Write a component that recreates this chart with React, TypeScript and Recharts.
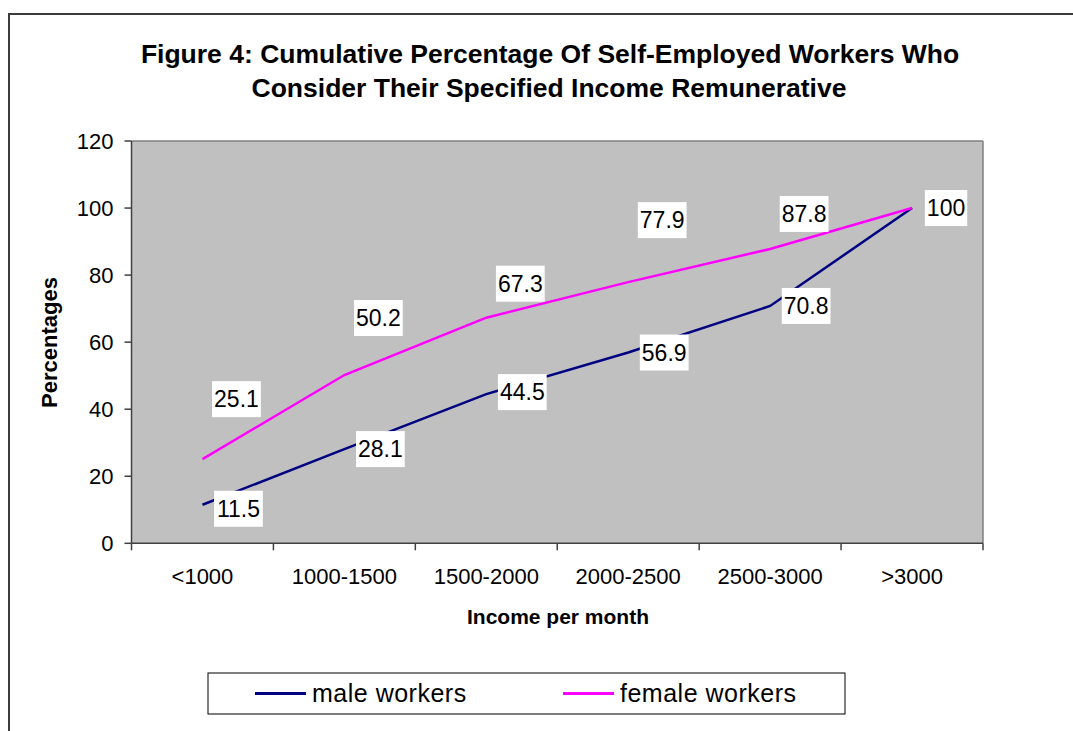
import React from "react";
import { LineChart, Line, XAxis, YAxis, CartesianGrid, ReferenceLine, LabelList } from "recharts";

const incomeBands = ["<1000", "1000-1500", "1500-2000", "2000-2500", "2500-3000", ">3000"];
const maleWorkers = [11.5, 28.1, 44.5, 56.9, 70.8, 100];
const femaleWorkers = [25.1, 50.2, 67.3, 77.9, 87.8, 100];
const yTicks = [0, 20, 40, 60, 80, 100, 120];

const seriesInfo = [
  { key: "male", name: "male workers", color: "#000080" },
  { key: "female", name: "female workers", color: "#FF00FF" },
];

const rows = incomeBands.map((band, i) => ({
  band,
  pos: i + 0.5,
  male: maleWorkers[i],
  female: femaleWorkers[i],
}));

// tick every band edge (tick line) and every band centre (label)
const xTicks = incomeBands.flatMap((_, i) => [i, i + 0.5]).concat(incomeBands.length);

const FONT = "Arial, 'Liberation Sans', sans-serif";
const AXIS = "#404040";

// label box offsets, as Excel left them
const maleDx = 36;
const maleDy = [4, 0, -2, 0, 0, 0];
const femaleDx = 34;
const femaleDy = [-60, -57, -34, -62, -35, 0];

function textWidth(s: string, size: number) {
  let w = 0;
  for (const ch of String(s)) w += ch === "." ? 0.278 : 0.556;
  return w * size;
}

function makeLabel(dx: number, dys: number[], skip?: (i: number) => boolean) {
  return (props: any) => {
    const px = props.x ?? props.viewBox?.x;
    const py = props.y ?? props.viewBox?.y;
    if (px == null || py == null) return null;
    const idx = props.index ?? 0;
    if (skip && skip(idx)) return null;
    const cx = px + dx;
    const cy = py + (dys[idx] ?? 0);
    const w = textWidth(String(props.value), 23) + 4;
    return (
      <g>
        <rect x={cx - w / 2} y={cy - 18} width={w} height={36} fill="#fff" />
        <text x={cx} y={cy} dy="0.355em" textAnchor="middle" fontSize={23} fontFamily={FONT} fill="#000">
          {props.value}
        </text>
      </g>
    );
  };
}

// where both series meet, Excel shows just one label
const maleSkip = (i: number) => maleWorkers[i] === femaleWorkers[i];

function XTick(props: any) {
  const { x, y, payload } = props;
  const v = payload.value;
  if (Number.isInteger(v)) {
    return <line x1={x} x2={x} y1={y} y2={y + 7} stroke={AXIS} strokeWidth={1.5} />;
  }
  return (
    <text x={x} y={y + 33} dy="0.355em" textAnchor="middle" fontSize={22} fontFamily={FONT} fill="#000">
      {incomeBands[Math.floor(v)]}
    </text>
  );
}

export default function App() {
  return (
    <div style={{ position: "absolute", left: 0, top: 0, width: 1073, height: 731, background: "#fff", overflow: "hidden" }}>
      <svg width={1073} height={731} style={{ position: "absolute", left: 0, top: 0 }}>
        <rect x={9} y={14} width={1100} height={800} fill="none" stroke="#3c3c3c" strokeWidth={2} />
        <text x={550} y={54} dy="0.355em" textAnchor="middle" fontSize={26.5} fontWeight="bold" fontFamily={FONT}>
          Figure 4: Cumulative Percentage Of Self-Employed Workers Who
        </text>
        <text x={549} y={88} dy="0.355em" textAnchor="middle" fontSize={26.5} fontWeight="bold" fontFamily={FONT}>
          Consider Their Specified Income Remunerative
        </text>
        <text x={49} y={342.5} dy="0.355em" textAnchor="middle" fontSize={22} fontWeight="bold" fontFamily={FONT} transform="rotate(-90, 49, 342.5)">
          Percentages
        </text>
        <text x={558} y={617} dy="0.355em" textAnchor="middle" fontSize={21} fontWeight="bold" fontFamily={FONT}>
          Income per month
        </text>
        <rect x={208} y={673} width={637} height={41} fill="#fff" stroke="#000" strokeWidth={1} />
        {seriesInfo.map((s, i) => {
          const lx = 255 + i * 308;
          return (
            <g key={s.key}>
              <line x1={lx} x2={lx + 51} y1={693.5} y2={693.5} stroke={s.color} strokeWidth={3} />
              <text x={lx + 57} y={693.5} dy="0.355em" fontSize={25} letterSpacing={0.5} fontFamily={FONT} fill="#000">
                {s.name}
              </text>
            </g>
          );
        })}
      </svg>
      <div style={{ position: "absolute", left: 0, top: 0 }}>
        <LineChart
          width={1073}
          height={731}
          data={rows}
          margin={{ top: 141, right: 90, bottom: 127.7, left: 71.5 }}
          style={{ fontFamily: FONT }}
        >
          <CartesianGrid fill="#C0C0C0" horizontal={false} vertical={false} />
          <ReferenceLine y={120} stroke="#808080" strokeWidth={1.5} />
          <ReferenceLine x={incomeBands.length} stroke="#808080" strokeWidth={1.5} />
          <XAxis
            type="number"
            dataKey="pos"
            domain={[0, incomeBands.length]}
            ticks={xTicks}
            interval={0}
            height={60}
            tickSize={0}
            tickMargin={0}
            tickLine={false}
            axisLine={{ stroke: AXIS, strokeWidth: 1.5 }}
            tick={<XTick />}
          />
          <YAxis
            type="number"
            domain={[0, 120]}
            ticks={yTicks}
            interval={0}
            width={60}
            tickSize={7}
            tickMargin={11}
            tickLine={{ stroke: AXIS, strokeWidth: 1.5 }}
            axisLine={{ stroke: AXIS, strokeWidth: 1.5 }}
            tick={{ fill: "#000", fontSize: 22, fontFamily: FONT }}
          />
          <Line
            type="linear"
            dataKey="male"
            name="male workers"
            stroke="#000080"
            strokeWidth={2.5}
            dot={false}
            activeDot={false}
            isAnimationActive={false}
          >
            <LabelList dataKey="male" content={makeLabel(maleDx, maleDy, maleSkip)} />
          </Line>
          <Line
            type="linear"
            dataKey="female"
            name="female workers"
            stroke="#FF00FF"
            strokeWidth={2.5}
            dot={false}
            activeDot={false}
            isAnimationActive={false}
          >
            <LabelList dataKey="female" content={makeLabel(femaleDx, femaleDy)} />
          </Line>
        </LineChart>
      </div>
    </div>
  );
}
